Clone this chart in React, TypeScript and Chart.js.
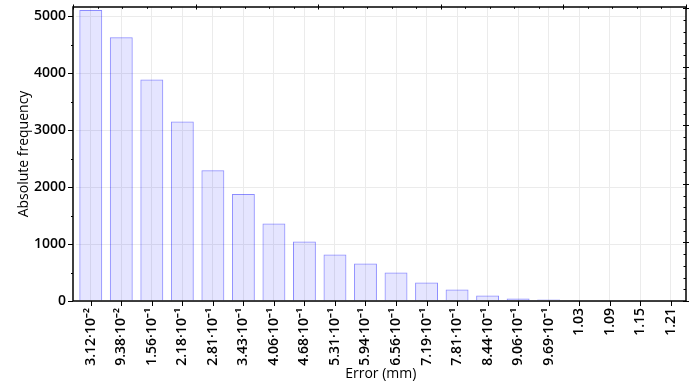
import React, { useEffect, useRef } from "react";
import { Chart, registerables } from "chart.js";

Chart.register(...registerables);

const categories = [
  "3.12·10⁻²", "9.38·10⁻²", "1.56·10⁻¹", "2.18·10⁻¹", "2.81·10⁻¹",
  "3.43·10⁻¹", "4.06·10⁻¹", "4.68·10⁻¹", "5.31·10⁻¹", "5.94·10⁻¹",
  "6.56·10⁻¹", "7.19·10⁻¹", "7.81·10⁻¹", "8.44·10⁻¹", "9.06·10⁻¹",
  "9.69·10⁻¹", "1.03", "1.09", "1.15", "1.21",
];
const frequencies = [
  5105, 4626, 3888, 3151, 2295, 1879, 1359, 1043, 815, 657,
  499, 323, 200, 95, 42, 25, 0, 0, 0, 0,
];
const yTicks = [0, 1000, 2000, 3000, 4000, 5000];
const yMax = 5158;
const xTitle = "Error (mm)";
const yTitle = "Absolute frequency";

const framePlugin = {
  id: "frame",
  afterDraw(chart: any) {
    const { ctx, chartArea: a, scales } = chart;
    const x = scales.x;
    const y = scales.y;
    const L = a.left - 2.5;
    ctx.save();
    ctx.strokeStyle = "#000";
    ctx.lineWidth = 1.5;
    ctx.strokeRect(L, a.top, a.right - L, a.bottom - a.top);
    ctx.lineWidth = 1;
    ctx.beginPath();
    for (let v = 0; v <= yMax; v += 500) {
      const py = Math.round(y.getPixelForValue(v)) + 0.5;
      const major = v % 1000 === 0;
      ctx.moveTo(L - (major ? 5 : 2), py);
      ctx.lineTo(L, py);
    }
    for (let i = 0; i < categories.length; i++) {
      const px = Math.round(x.getPixelForValue(i)) + 0.5;
      ctx.moveTo(px, a.bottom);
      ctx.lineTo(px, a.bottom + 5);
    }
    const w = a.right - L;
    for (let i = 0; i <= 25; i++) {
      const px = Math.round(L + (w * i) / 25) + 0.5;
      const major = i % 5 === 0;
      ctx.moveTo(px, a.top - (major ? 2.5 : 0));
      ctx.lineTo(px, a.top + (major ? 2.5 : 1.8));
    }
    const h = a.bottom - a.top;
    const step = h / 5.02 / 5;
    let k = 0;
    for (let py = a.bottom; py >= a.top - 0.5; py -= step, k++) {
      const yy = Math.round(py) + 0.5;
      const major = k % 5 === 0;
      ctx.moveTo(a.right - (major ? 3 : 2.5), yy);
      ctx.lineTo(a.right + (major ? 3 : 0), yy);
    }
    ctx.stroke();
    ctx.restore();
  },
};

export default function App() {
  const ref = useRef<HTMLCanvasElement>(null);
  useEffect(() => {
    document.body.style.margin = "0";
    const chart = new Chart(ref.current as HTMLCanvasElement, {
      type: "bar",
      data: {
        labels: categories,
        datasets: [
          {
            data: frequencies,
            backgroundColor: "rgba(0,0,255,0.1)",
            borderColor: "rgba(0,0,255,0.45)",
            borderWidth: 1,
            barPercentage: 0.75,
            categoryPercentage: 1,
          },
        ],
      },
      options: {
        animation: false,
        responsive: false,
        maintainAspectRatio: false,
        layout: { padding: { top: 7, right: 6, left: 0, bottom: 0 } },
        plugins: { legend: { display: false }, tooltip: { enabled: false } },
        scales: {
          x: {
            offset: true,
            grid: { offset: false, color: "#ebebeb", drawTicks: false },
            border: { display: false },
            ticks: {
              minRotation: 90,
              maxRotation: 90,
              autoSkip: false,
              padding: 7,
              color: "#000",
              font: { family: "'Open Sans'", size: 14, weight: 600 },
            },
            title: {
              display: true,
              text: xTitle,
              color: "#000",
              font: { family: "'Open Sans'", size: 14 },
              padding: { top: 0, bottom: 1 },
            },
            afterFit: (s: any) => {
              s.height = 82;
              s.paddingLeft = 0;
              s.paddingRight = 0;
            },
          },
          y: {
            min: 0,
            max: yMax,
            grid: { color: "#ebebeb", drawTicks: false },
            border: { display: false },
            afterBuildTicks: (s: any) => {
              s.ticks = yTicks.map((v) => ({ value: v }));
            },
            ticks: {
              padding: 9.5,
              color: "#000",
              font: { family: "'Open Sans'", size: 14, weight: 600 },
              callback: (v: any) => String(v),
            },
            title: {
              display: true,
              text: yTitle,
              color: "#000",
              font: { family: "'Open Sans'", size: 14 },
              padding: { top: 16, bottom: 0 },
            },
            afterFit: (s: any) => {
              s.width = 75.5;
              s.paddingTop = 0;
              s.paddingBottom = 0;
            },
          },
        },
      },
      plugins: [framePlugin],
    });
    return () => chart.destroy();
  }, []);
  return (
    <div style={{ position: "absolute", left: 0, top: 0, width: 692, height: 383 }}>
      <canvas ref={ref} width={692} height={383} />
    </div>
  );
}
